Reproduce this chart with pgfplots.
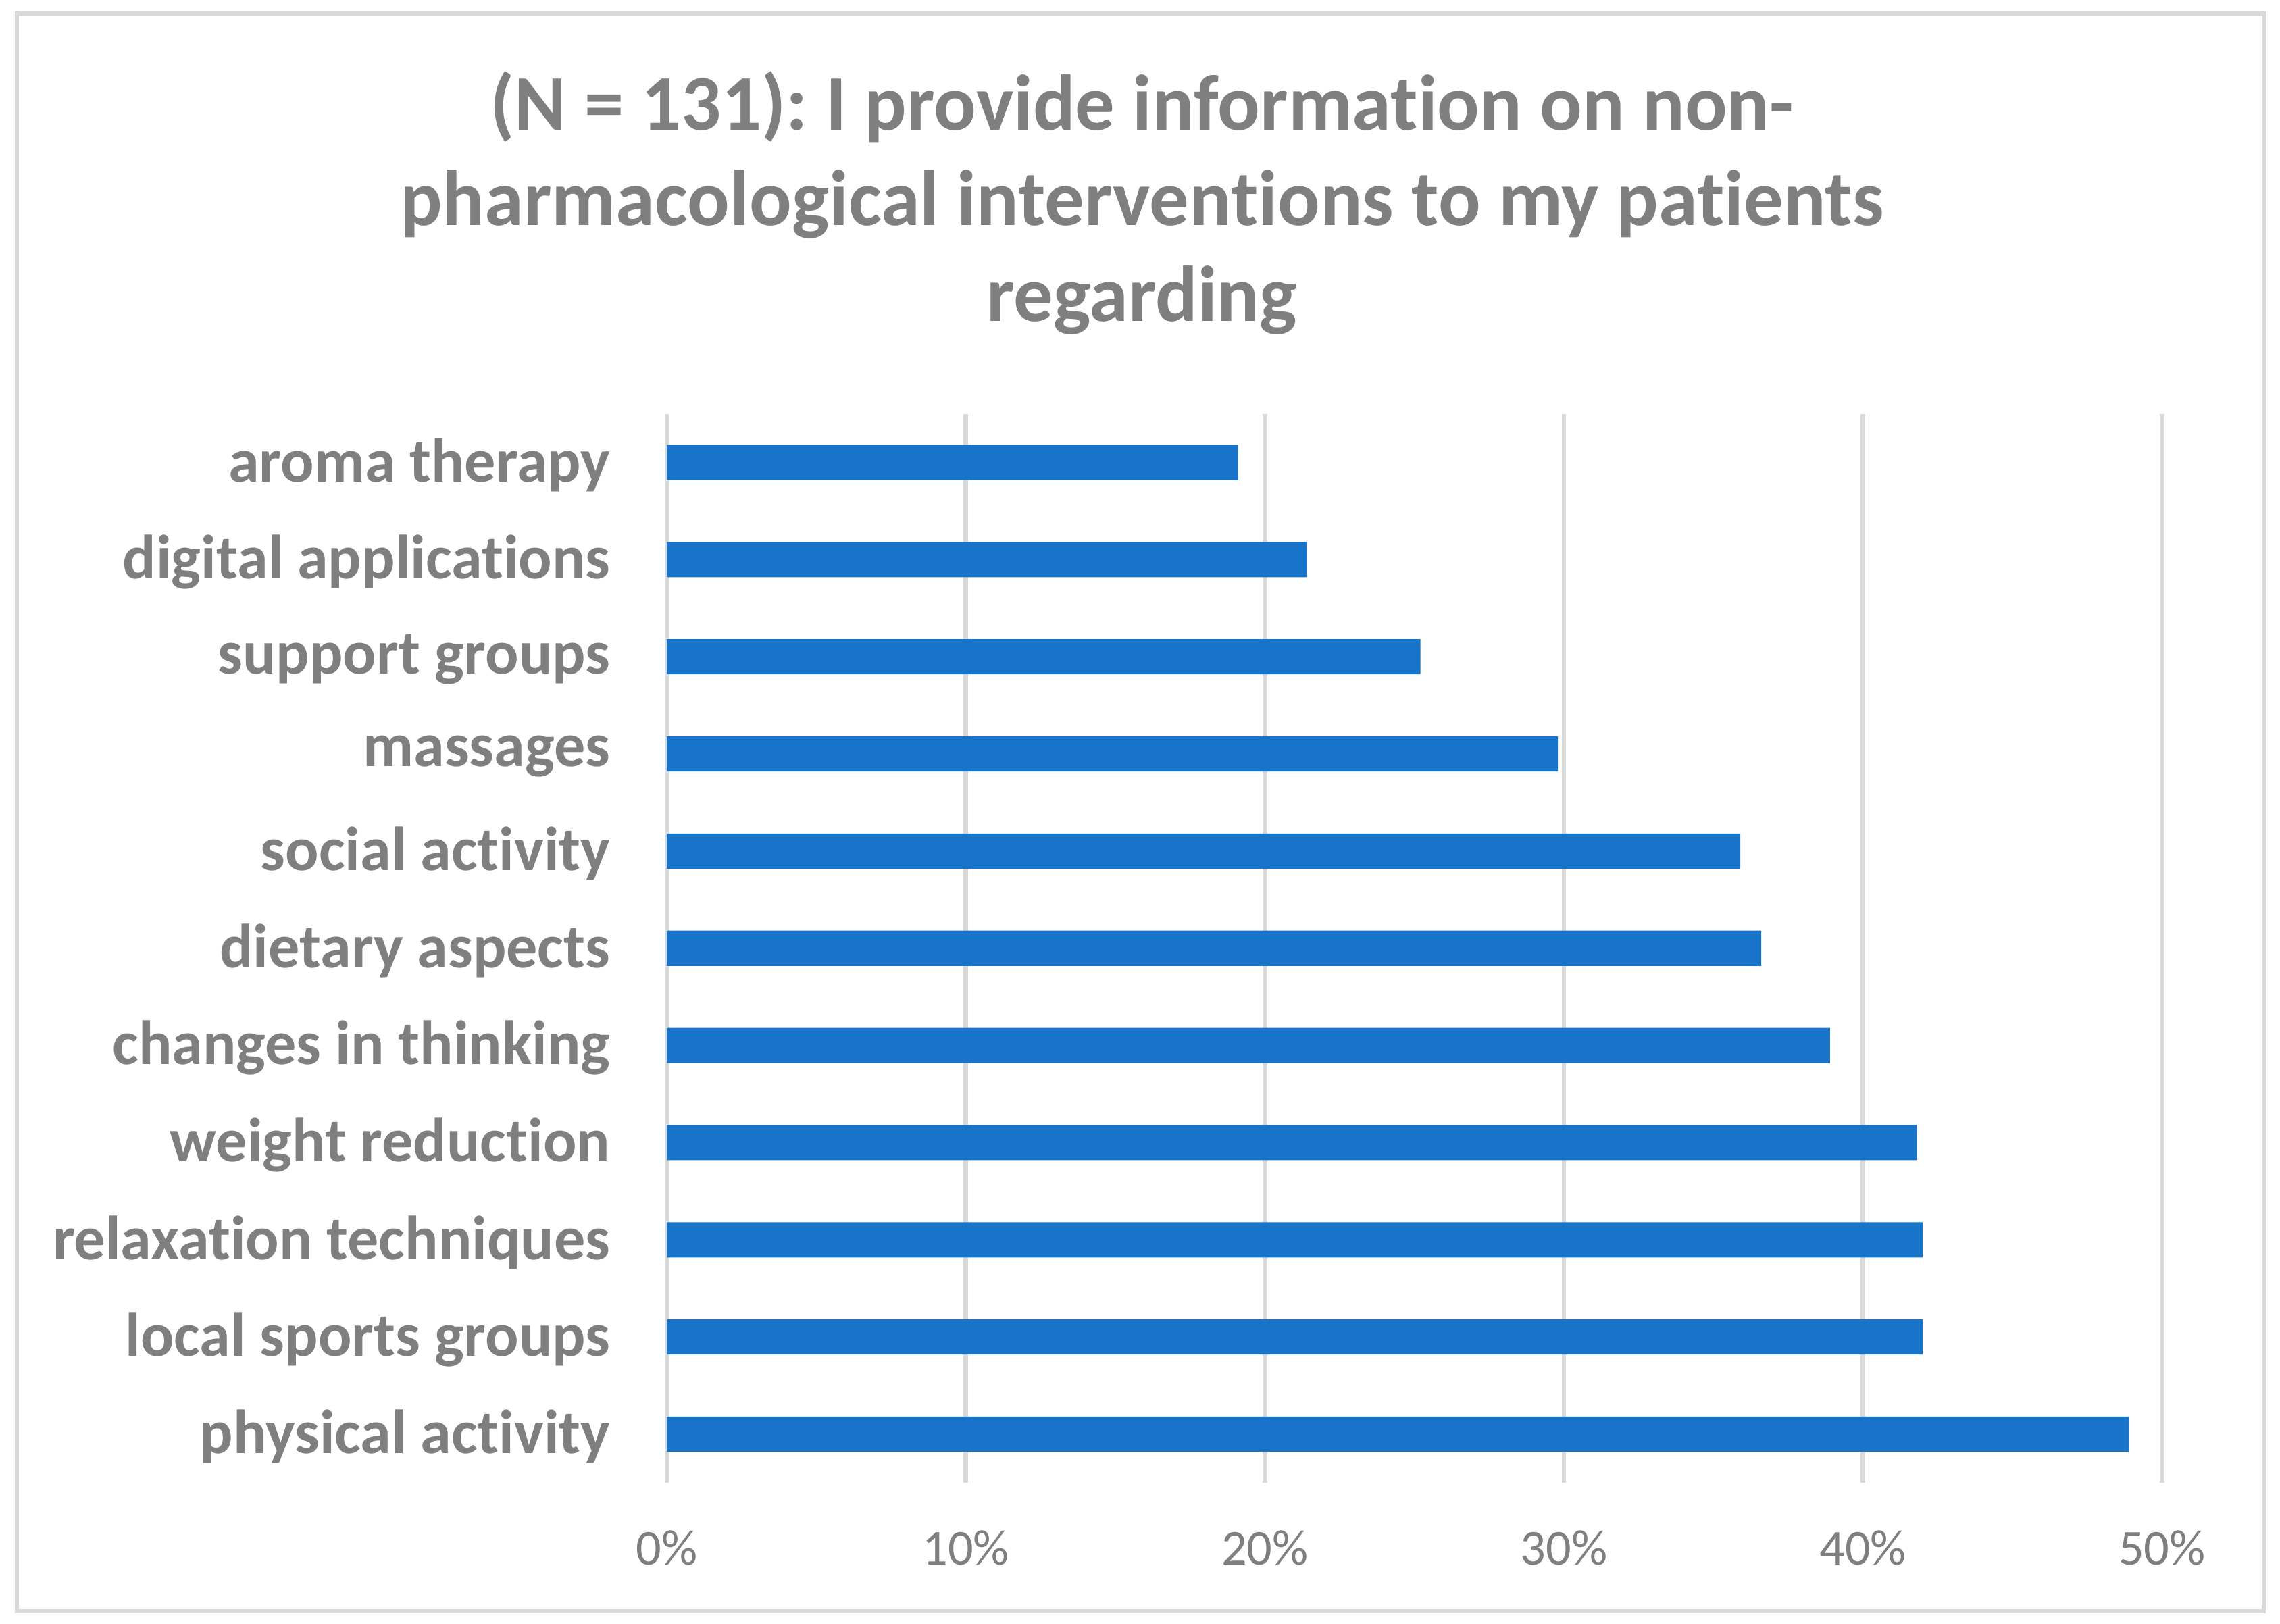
\documentclass[border=0pt]{standalone}
\usepackage{pgfplots}
\pgfplotsset{compat=1.18}
\usepackage{fontspec}
\setmainfont{Carlito}[Ligatures={NoCommon}]
\frenchspacing
\definecolor{txt}{HTML}{7F7F7F}
\definecolor{grd}{HTML}{D9D9D9}
\definecolor{bar}{HTML}{1874C8}
\begin{document}
\begin{tikzpicture}
\path[use as bounding box] (0,0) rectangle (453.9pt,323.3pt);
\draw[grd, line width=0.8pt] (3.4pt,2.6pt) rectangle (450.6pt,320.6pt);
\node[txt, font=\fontsize{15.7}{19.0}\selectfont\bfseries, align=center] at (227.3pt,282.9pt)
  {(N = 131): I provide information on non-\\pharmacological interventions to my patients\\regarding};
\begin{axis}[
  at={(132.75pt,28.11pt)}, anchor=south west,
  scale only axis, width=297.65pt, height=212.8pt,
  xmin=0, xmax=50, ymin=-0.5, ymax=10.5,
  axis line style={draw=none},
  xbar, bar width=7pt,
  xtick={0,10,20,30,40,50},
  xticklabels={0\%,10\%,20\%,30\%,40\%,50\%},
  xmajorgrids, major grid style={grd, line width=0.9pt},
  ytick={0,...,10},
  yticklabels={physical activity,local sports groups,relaxation techniques,weight reduction,changes in thinking,dietary aspects,social activity,massages,support groups,digital applications,aroma therapy},
  major tick length=0pt,
  tick style={draw=none},
  xticklabel style={font=\fontsize{10}{12}\selectfont, text=txt, yshift=-6pt},
  yticklabel style={font=\fontsize{12.4}{14}\selectfont\bfseries, text=txt, xshift=-7.75pt, yshift=-0.5pt},
  clip=false,
]
\addplot[fill=bar, draw=none] coordinates {
(48.9,0) (42.0,1) (42.0,2) (41.8,3) (38.9,4) (36.6,5) (35.9,6) (29.8,7) (25.2,8) (21.4,9) (19.1,10)
};
\end{axis}
\end{tikzpicture}
\end{document}
